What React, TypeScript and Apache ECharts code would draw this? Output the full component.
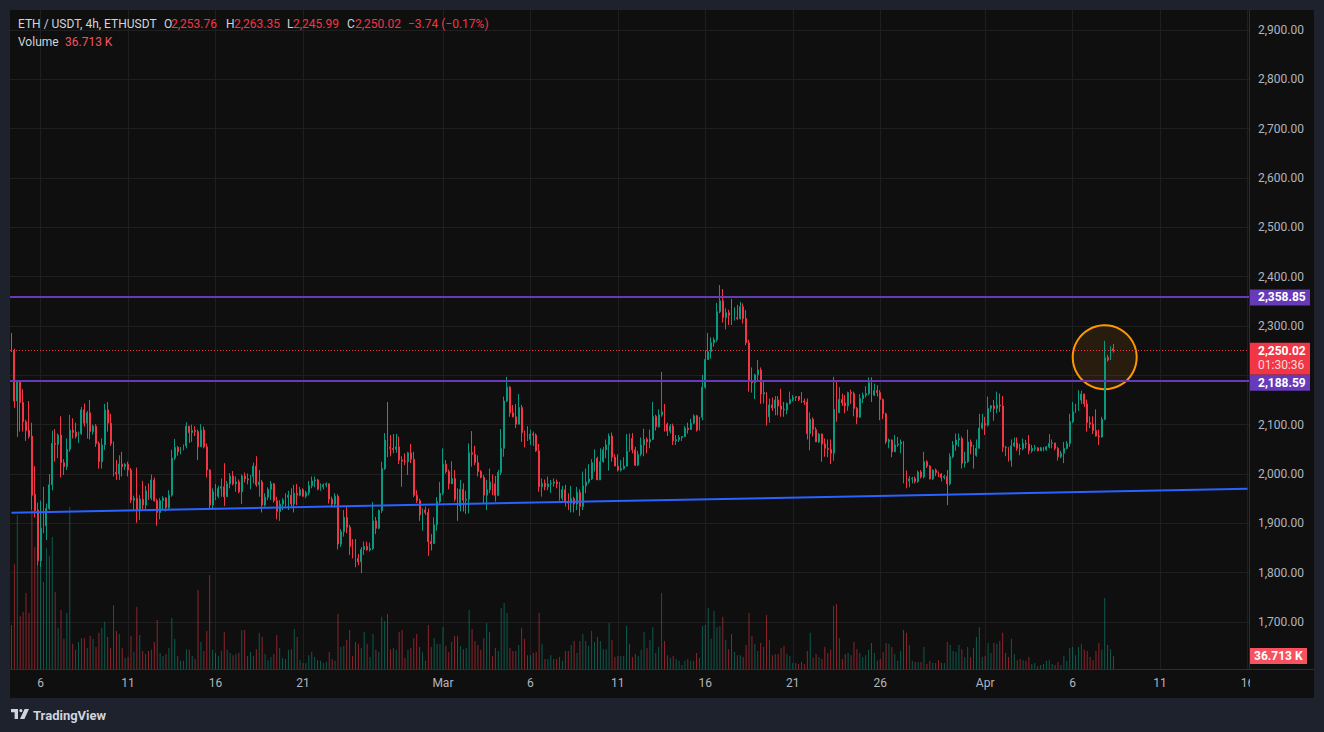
import React, { useEffect, useRef } from 'react';
import * as echarts from 'echarts';

// ---- data (ETH/USDT 4h) ----
// each row: [open, high, low, close]
const ohlc: number[][] = [
  // 0
  [2283,2286,2247,2251],[2251,2254,2134,2148],[2148,2190,2075,2187],[2187,2190,2086,2145],[2145,2172,2086,2106],
  [2106,2110,2067,2088],[2089,2148,2072,2076],[2077,2104,1927,1957],[1959,2016,1912,1926],[1927,1942,1815,1824],
  // 10
  [1824,1946,1812,1890],[1888,1974,1880,1893],[1895,1940,1866,1930],[1930,2000,1927,1978],[1978,2088,1967,2062],
  [2062,2091,2025,2060],[2060,2082,2032,2079],[2079,2117,1993,2023],[2023,2030,1998,2015],[2015,2072,2008,2050],
  // 20
  [2050,2120,2045,2089],[2089,2113,2072,2084],[2085,2104,2072,2076],[2076,2086,2063,2082],[2082,2136,2079,2130],
  [2130,2143,2096,2103],[2103,2128,2072,2124],[2124,2150,2070,2086],[2086,2100,2080,2097],[2097,2101,2055,2062],
  // 30
  [2062,2066,2011,2025],[2025,2072,2011,2059],[2059,2142,2049,2130],[2130,2146,2086,2103],[2103,2122,2057,2062],
  [2062,2066,1995,2003],[2003,2028,1988,2000],[2000,2038,1988,2020],[2020,2045,1995,2015],[2015,2022,2008,2020],
  // 40
  [2020,2025,1995,2008],[2008,2012,1941,1947],[1947,1956,1927,1951],[1951,2013,1901,1926],[1926,1957,1907,1949],
  [1949,1986,1927,1937],[1937,1976,1927,1966],[1966,1981,1947,1951],[1951,1999,1947,1988],[1988,1993,1944,1946],
  // 50
  [1946,1950,1895,1922],[1922,1951,1908,1946],[1946,1955,1927,1951],[1951,1953,1924,1932],[1932,1967,1927,1957],
  [1957,2049,1954,2032],[2032,2071,2028,2054],[2054,2057,2037,2045],[2045,2055,2040,2052],[2052,2060,2048,2057],
  // 60
  [2057,2105,2052,2097],[2097,2097,2063,2084],[2084,2100,2065,2088],[2088,2097,2077,2086],[2086,2090,2028,2055],
  [2055,2101,2055,2089],[2089,2096,2052,2055],[2055,2062,1993,2008],[2008,2010,1927,1937],[1937,1971,1930,1964],
  // 70
  [1964,1980,1947,1955],[1955,1976,1951,1971],[1971,1991,1954,1974],[1974,2022,1935,1954],[1954,1986,1954,1980],
  [1980,2002,1971,1996],[1996,2006,1977,1980],[1980,1995,1964,1984],[1984,1989,1961,1964],[1964,1999,1939,1996],
  // 80
  [1996,2003,1983,1990],[1990,2001,1979,1988],[1988,1998,1969,1995],[1995,2023,1981,2016],[2016,2036,1974,1978],
  [1978,2008,1954,1984],[1984,1988,1922,1937],[1937,1961,1934,1953],[1953,1973,1947,1969],[1969,1986,1947,1980],
  // 90
  [1980,1982,1942,1946],[1946,1954,1908,1924],[1924,1947,1905,1939],[1939,1951,1927,1947],[1947,1961,1934,1953],
  [1953,1966,1927,1957],[1957,1971,1934,1939],[1939,1978,1922,1961],[1961,1980,1937,1957],[1957,1974,1955,1968],
  // 100
  [1968,1971,1954,1955],[1955,1966,1951,1962],[1962,1986,1957,1976],[1976,1995,1971,1986],[1986,1995,1973,1988],
  [1988,1990,1967,1969],[1969,1981,1966,1974],[1974,1981,1969,1978],[1978,1983,1973,1980],[1980,1981,1940,1949],
  // 110
  [1949,1954,1932,1939],[1939,1961,1932,1955],[1955,1959,1847,1858],[1858,1888,1852,1883],[1883,1927,1873,1912],
  [1912,1933,1880,1892],[1892,1897,1836,1853],[1853,1868,1829,1846],[1846,1868,1811,1829],[1829,1838,1815,1822],
  // 120
  [1822,1852,1799,1847],[1847,1863,1836,1853],[1853,1863,1845,1846],[1846,1861,1843,1849],[1849,1943,1846,1905],
  [1905,1913,1878,1890],[1890,1928,1888,1926],[1926,2025,1921,2011],[2011,2083,2008,2069],[2069,2146,2034,2054],
  // 130
  [2054,2079,2036,2052],[2052,2081,2042,2050],[2050,2081,2043,2055],[2055,2076,2020,2028],[2028,2036,1974,2026],
  [2026,2042,2018,2025],[2025,2045,1998,2043],[2043,2061,2022,2030],[2030,2045,1953,1957],[1957,1967,1941,1946],
  // 140
  [1946,1950,1905,1917],[1917,1930,1885,1927],[1927,1934,1917,1922],[1922,1930,1834,1863],[1863,1878,1845,1859],
  [1859,1912,1859,1897],[1897,1953,1885,1944],[1944,1984,1940,1961],[1961,2052,1957,2020],[2020,2028,2001,2005],
  // 150
  [2005,2009,1969,1980],[1980,2026,1980,1991],[1991,2008,1944,1949],[1949,1971,1905,1935],[1935,1988,1924,1969],
  [1969,1981,1924,1947],[1947,1966,1919,1949],[1949,2062,1920,2043],[2043,2087,2015,2040],[2040,2057,2018,2023],
  // 160
  [2023,2038,1995,2005],[2005,2008,1991,1993],[1993,1998,1939,1957],[1957,1988,1927,1968],[1968,2011,1961,1984],
  [1984,1999,1957,1980],[1980,1996,1944,1957],[1957,2008,1955,2003],[2003,2091,1998,2052],[2052,2157,2035,2148],
  // 170
  [2148,2197,2146,2176],[2176,2178,2116,2124],[2124,2140,2115,2116],[2116,2142,2093,2101],[2101,2162,2101,2135],
  [2135,2140,2065,2084],[2084,2088,2054,2072],[2072,2097,2067,2070],[2070,2090,2059,2081],[2081,2086,2057,2079],
  // 180
  [2079,2082,2045,2047],[2047,2061,1964,1974],[1974,1991,1954,1981],[1981,1989,1967,1974],[1974,1995,1967,1980],
  [1980,1988,1962,1981],[1981,1991,1974,1984],[1984,1989,1971,1980],[1980,1984,1946,1951],[1951,1976,1946,1968],
  // 190
  [1968,1978,1934,1944],[1944,1961,1927,1941],[1941,1976,1922,1950],[1950,1954,1922,1939],[1939,1974,1927,1963],
  [1963,1969,1915,1934],[1934,2005,1927,1976],[1976,2011,1961,1984],[1984,2020,1980,1990],[1990,2030,1988,2023],
  // 200
  [2023,2050,2005,2032],[2032,2035,1988,1988],[1988,2052,1988,2025],[2025,2055,2023,2049],[2049,2070,2032,2059],
  [2059,2082,2007,2077],[2077,2084,2025,2034],[2034,2040,2016,2016],[2016,2040,2005,2008],[2008,2028,2005,2011],
  // 210
  [2011,2034,2009,2016],[2016,2081,2015,2046],[2046,2082,2045,2072],[2072,2083,2042,2049],[2049,2055,2016,2018],
  [2018,2047,2016,2040],[2040,2074,2036,2059],[2059,2092,2036,2070],[2070,2074,2042,2065],[2065,2090,2052,2070],
  // 220
  [2070,2146,2069,2117],[2117,2120,2088,2096],[2096,2131,2094,2120],[2120,2207,2116,2126],[2126,2142,2086,2101],
  [2101,2104,2077,2087],[2087,2101,2082,2097],[2097,2102,2059,2067],[2067,2079,2059,2070],[2070,2079,2065,2074],
  // 230
  [2074,2077,2067,2076],[2076,2097,2075,2093],[2093,2104,2082,2090],[2090,2112,2090,2103],[2103,2121,2101,2118],
  [2118,2120,2086,2089],[2089,2116,2088,2115],[2115,2201,2109,2176],[2176,2251,2173,2232],[2232,2286,2231,2248],
  // 240
  [2248,2277,2234,2266],[2266,2277,2258,2272],[2272,2347,2268,2329],[2329,2383,2326,2351],[2351,2375,2307,2317],
  [2317,2336,2293,2327],[2327,2333,2302,2322],[2322,2355,2302,2313],[2313,2338,2311,2317],[2317,2343,2312,2315],
  // 250
  [2315,2349,2313,2339],[2339,2346,2305,2315],[2315,2332,2261,2266],[2266,2272,2167,2187],[2187,2216,2165,2185],
  [2185,2203,2152,2201],[2201,2231,2187,2211],[2211,2216,2142,2162],[2162,2190,2143,2165],[2165,2166,2098,2116],
  // 260
  [2116,2153,2104,2140],[2140,2155,2128,2134],[2134,2158,2119,2150],[2150,2158,2119,2138],[2138,2173,2116,2131],
  [2131,2146,2116,2130],[2130,2145,2121,2143],[2143,2167,2141,2151],[2151,2160,2147,2155],[2155,2158,2148,2157],
  // 270
  [2157,2158,2148,2151],[2151,2166,2144,2148],[2148,2153,2140,2146],[2146,2153,2070,2082],[2082,2125,2048,2111],
  [2111,2115,2076,2090],[2090,2095,2065,2065],[2065,2083,2063,2081],[2081,2082,2025,2061],[2061,2072,2035,2052],
  // 280
  [2052,2070,2034,2050],[2050,2070,2020,2042],[2042,2197,2027,2131],[2131,2190,2106,2124],[2124,2176,2124,2151],
  [2151,2163,2138,2144],[2144,2160,2123,2138],[2138,2167,2128,2165],[2165,2171,2142,2163],[2163,2167,2117,2133],
  // 290
  [2133,2136,2101,2115],[2115,2162,2115,2153],[2153,2165,2144,2160],[2160,2178,2155,2163],[2163,2196,2160,2185],
  [2185,2196,2146,2160],[2160,2183,2158,2169],[2169,2180,2157,2165],[2165,2170,2109,2151],[2151,2153,2111,2122],
  // 300
  [2122,2124,2061,2065],[2065,2072,2052,2069],[2069,2070,2034,2045],[2045,2079,2045,2059],[2059,2075,2055,2061],
  [2061,2070,2042,2065],[2065,2067,1981,1988],[1988,2007,1971,1986],[1986,1996,1973,1990],[1990,1994,1981,1991],
  // 310
  [1991,1995,1981,1985],[1985,2007,1982,2004],[2004,2008,1991,1994],[1994,2045,1991,2025],[2025,2028,2012,2016],
  [2016,2018,1989,1990],[1990,2009,1988,2008],[2008,2011,1996,2003],[2003,2005,1994,2000],[2000,2002,1985,1993],
  // 320
  [1993,1998,1989,1995],[1995,2008,1937,1980],[1980,2042,1977,2035],[2035,2067,2032,2059],[2059,2082,2047,2069],
  [2069,2082,2055,2072],[2072,2076,2011,2022],[2022,2045,2013,2025],[2025,2090,2023,2065],[2065,2070,2040,2055],
  // 330
  [2055,2059,2011,2038],[2038,2070,2035,2052],[2052,2122,2052,2093],[2093,2122,2090,2103],[2103,2116,2079,2099],
  [2099,2157,2096,2133],[2133,2140,2126,2138],[2138,2150,2108,2133],[2133,2167,2123,2140],[2140,2163,2126,2138],
  // 340
  [2138,2158,2045,2054],[2054,2057,2036,2053],[2053,2055,2025,2028],[2028,2070,2015,2057],[2057,2074,2055,2063],
  [2063,2074,2047,2052],[2052,2061,2038,2051],[2051,2072,2048,2062],[2062,2069,2052,2061],[2061,2079,2040,2047],
  // 350
  [2047,2059,2043,2052],[2052,2059,2047,2053],[2053,2054,2046,2047],[2047,2055,2047,2053],[2053,2055,2046,2049],
  [2049,2057,2047,2055],[2055,2081,2052,2062],[2062,2070,2052,2063],[2063,2063,2048,2052],[2052,2055,2027,2035],
  // 360
  [2035,2047,2032,2042],[2042,2065,2022,2052],[2052,2067,2050,2062],[2062,2122,2055,2106],[2106,2146,2103,2126],
  [2126,2142,2124,2135],[2135,2170,2128,2150],[2150,2169,2142,2162],[2162,2163,2136,2142],[2142,2151,2086,2104],
  // 370
  [2104,2117,2093,2101],[2101,2117,2081,2088],[2088,2131,2076,2077],[2077,2090,2059,2075],[2075,2116,2074,2111],
  [2111,2270,2109,2236],[2236,2241,2228,2231],[2231,2259,2231,2253.76],[2253.76,2263.35,2245.99,2250.02],
];

// volume in thousands of ETH
const volumesK: number[] = [
  124,296,434,149,161,214,158,448,344,310,
  451,245,341,319,372,217,116,166,85,158,
  457,71,54,76,87,87,59,93,85,62,
  102,116,133,90,59,180,107,99,59,31,
  34,93,48,175,96,51,42,51,54,76,
  138,45,37,42,59,144,85,37,23,23,
  56,54,37,28,223,76,51,107,265,54,
  45,37,51,104,54,45,39,42,45,110,
  110,37,48,37,56,102,90,42,25,34,
  42,96,59,31,28,54,56,113,90,25,
  17,17,39,48,34,25,23,17,20,48,
  28,23,155,62,65,82,110,37,76,71,
  59,104,71,34,99,54,48,147,135,155,
  56,59,54,104,110,31,54,59,87,99,
  62,48,23,124,62,87,71,71,118,65,
  48,76,93,93,65,56,59,166,113,79,
  68,54,87,130,104,37,59,51,172,186,
  158,59,51,51,68,116,85,39,39,45,
  48,158,71,28,28,39,28,28,34,23,
  51,51,68,79,45,79,99,79,65,107,
  76,90,79,56,56,130,82,34,37,37,
  37,121,71,34,42,37,54,104,59,82,
  118,45,62,214,79,39,31,37,28,23,
  11,23,28,23,23,45,31,121,124,172,
  85,164,118,121,147,82,56,99,48,39,
  39,34,68,158,93,71,51,73,62,152,
  82,39,42,42,59,65,42,37,17,17,
  14,20,14,51,102,31,42,34,28,62,
  45,54,178,183,87,28,42,45,39,76,
  56,45,34,39,54,73,45,23,28,48,
  73,71,62,42,23,51,110,102,68,23,
  20,20,20,62,14,23,17,17,25,17,
  17,76,68,51,48,68,56,34,62,34,
  59,90,118,34,37,73,45,73,71,79,
  102,45,34,85,42,25,28,25,23,34,
  14,17,8,11,14,23,25,14,11,20,
  11,37,23,59,62,39,62,71,54,51,
  34,25,51,73,54,200,68,56,36.713,
];

const slotCount = 425; // 4h slots shown on the time axis (incl. empty future space)
const tickIndex = [10, 40, 70, 100, 148, 178, 208, 238, 268, 298, 334, 364, 394, 424];
const tickLabels = ['6', '11', '16', '21', 'Mar', '6', '11', '16', '21', '26', 'Apr', '6', '11', '16'];
const priceMin = 1700;
const priceMax = 2900;
const priceStep = 100;
const volumeAxisMax = 1858;
const resistance = 2358.85;
const support = 2188.59;
const trendLine: number[][] = [[0, 1921.6], [424, 1970.0]];
const highlight: number[] = [375, 2236.6];
const countdown = '01:30:36';
const symbolTitle = 'ETH / USDT, 4h, ETHUSDT';

const UP = '#089981';
const DOWN = '#f23645';
const FONT = 'Roboto, "Noto Sans", "DejaVu Sans", sans-serif';
const TEXT = '#d1d4dc';
const SCALE = '#b2b5be';
const GRIDLINE = '#1f1f1f';
const PURPLE = '#673ab7';

const fmt = (v: number) =>
  v.toLocaleString('en-US', { minimumFractionDigits: 2, maximumFractionDigits: 2 });

export default function App() {
  const ref = useRef<HTMLDivElement>(null);

  useEffect(() => {
    if (!ref.current) return;
    echarts.graphic.registerShape(
      'tvlogo',
      echarts.graphic.extendPath(
        'M0 0H7V10H3.6V3.2H0Z M8.3 1.6A1.6 1.6 0 1 0 11.5 1.6A1.6 1.6 0 1 0 8.3 1.6Z M13.6 0H18L13.4 10H9Z',
        {}
      ) as any
    );
    const chart = echarts.init(ref.current, undefined, { renderer: 'svg' });

    const categories = Array.from({ length: slotCount }, (_, i) => String(i));
    const tickSet = new Set(tickIndex);
    const candleData = ohlc.map(([o, h, l, c]) => [o, c, l, h]);
    const volData = volumesK.map((v, i) => ({
      value: v,
      itemStyle: {
        color: ohlc[i][3] >= ohlc[i][0] ? 'rgba(8,153,129,0.55)' : 'rgba(242,54,69,0.55)',
      },
    }));
    const last = ohlc[ohlc.length - 1];
    const prevClose = ohlc[ohlc.length - 2][3];
    const lastPrice = last[3];
    const tagPrices = [resistance, support, lastPrice];

    const option: any = {
      animation: false,
      backgroundColor: 'transparent',
      textStyle: { fontFamily: FONT },
      grid: [
        { left: 10, right: 75, top: 30, bottom: 110 },
        { left: 10, right: 75, top: 10, bottom: 63 },
      ],
      xAxis: [
        { type: 'category', gridIndex: 0, data: categories, show: false, boundaryGap: true },
        {
          type: 'category',
          gridIndex: 1,
          data: categories,
          boundaryGap: true,
          axisLine: { show: false },
          axisTick: { show: false },
          axisLabel: {
            interval: (idx: number) => tickSet.has(idx),
            formatter: (_v: string, idx: number) => tickLabels[tickIndex.indexOf(idx)] ?? '',
            color: SCALE,
            fontSize: 12,
            fontFamily: FONT,
            margin: 8,
          },
          splitLine: {
            show: true,
            interval: (idx: number) => tickSet.has(idx),
            alignWithLabel: true,
            lineStyle: { color: GRIDLINE, width: 1 },
          },
        },
      ],
      yAxis: [
        {
          type: 'value',
          gridIndex: 0,
          position: 'right',
          min: priceMin,
          max: priceMax,
          interval: priceStep,
          axisLine: { show: false },
          axisTick: { show: false },
          axisLabel: {
            color: SCALE,
            fontSize: 12,
            fontFamily: FONT,
            margin: 9,
            // price labels hidden where a price tag sits on the scale
            formatter: (v: number) => (tagPrices.some((p) => Math.abs(p - v) < 30) ? '' : fmt(v)),
          },
          splitLine: { show: true, lineStyle: { color: GRIDLINE, width: 1 } },
        },
        { type: 'value', gridIndex: 1, min: 0, max: volumeAxisMax, show: false },
      ],
      series: [
        {
          type: 'bar',
          name: 'Volume',
          xAxisIndex: 1,
          yAxisIndex: 1,
          data: volData,
          barWidth: 1,
          z: 1,
          silent: true,
        },
        {
          type: 'scatter',
          xAxisIndex: 0,
          yAxisIndex: 0,
          data: [highlight],
          symbol: 'circle',
          symbolSize: 64,
          z: 1,
          silent: true,
          itemStyle: { color: 'rgba(255,152,0,0.1)', borderColor: '#ff9800', borderWidth: 2, opacity: 1 },
        },
        {
          type: 'candlestick',
          name: 'ETHUSDT',
          xAxisIndex: 0,
          yAxisIndex: 0,
          data: candleData,
          barWidth: 1.4,
          z: 2,
          itemStyle: {
            color: UP,
            color0: DOWN,
            borderColor: UP,
            borderColor0: DOWN,
            borderWidth: 1,
          },
          markLine: {
            silent: true,
            symbol: ['none', 'none'],
            label: { show: false },
            animation: false,
            data: [
              { yAxis: resistance, lineStyle: { color: PURPLE, width: 2, type: 'solid' } },
              { yAxis: support, lineStyle: { color: PURPLE, width: 2, type: 'solid' } },
              { yAxis: lastPrice, lineStyle: { color: DOWN, width: 1, type: [1, 2] } },
              [
                { coord: trendLine[0], lineStyle: { color: '#2962ff', width: 2, type: 'solid' } },
                { coord: trendLine[1] },
              ],
            ],
          },
        },
      ],
    };
    chart.setOption(option);

    const yRes = chart.convertToPixel({ yAxisIndex: 0 } as any, resistance) as unknown as number;
    const ySup = chart.convertToPixel({ yAxisIndex: 0 } as any, support) as unknown as number;
    const yLast = chart.convertToPixel({ yAxisIndex: 0 } as any, lastPrice) as unknown as number;
    const yVol = chart.convertToPixel({ yAxisIndex: 1 } as any, volumesK[volumesK.length - 1]) as unknown as number;

    const tagX = 1250;
    const tagW = 60;
    const redTop = yLast - 8;
    const redBottom = redTop + 32;
    const supTop = Math.max(ySup - 8, redBottom);

    const txt = (x: number, y: number, text: string, fill: string, extra: any = {}) => ({
      type: 'text',
      x,
      y,
      z: 101,
      silent: true,
      style: {
        text,
        fill,
        fontSize: 12,
        fontFamily: FONT,
        verticalAlign: 'middle',
        align: 'left',
        ...extra,
      },
    });
    const rect = (x: number, y: number, w: number, h: number, fill: string, z = 100) => ({
      type: 'rect',
      z,
      silent: true,
      shape: { x, y, width: w, height: h },
      style: { fill },
    });

    const change = lastPrice - prevClose;
    const pct = (change / prevClose) * 100;
    const sign = (v: number) => (v < 0 ? '\u2212' : '+') + Math.abs(v).toFixed(2);
    const lastVol = volumesK[volumesK.length - 1];

    chart.setOption({
      graphic: [
        // frame lines
        { type: 'line', z: 60, silent: true, shape: { x1: 1249.5, y1: 10, x2: 1249.5, y2: 669 }, style: { stroke: '#2a2e39', lineWidth: 1 } },
        rect(1250, 670, 64, 27, '#0f0f0f', 55),
        { type: 'line', z: 60, silent: true, shape: { x1: 10, y1: 669.5, x2: 1314, y2: 669.5 }, style: { stroke: '#2a2e39', lineWidth: 1 } },
        // price tags
        rect(tagX, yRes - 7.5, tagW, 16, PURPLE),
        txt(1258, yRes + 0.5, fmt(resistance), '#ffffff', { fontWeight: 'bold' }),
        rect(tagX, redTop, tagW, 32, DOWN),
        txt(1258, yLast + 0.5, fmt(lastPrice), '#ffffff', { fontWeight: 'bold' }),
        txt(1258, yLast + 14, countdown, 'rgba(255,255,255,0.82)'),
        rect(tagX, supTop, tagW, 16, PURPLE),
        txt(1258, supTop + 8.5, fmt(support), '#ffffff', { fontWeight: 'bold' }),
        rect(tagX, yVol - 8, 57, 16, '#f7525f'),
        txt(1254, yVol, lastVol.toFixed(3) + ' K', '#ffffff', { fontWeight: 'bold' }),
        // legend
        txt(18, 24, symbolTitle, TEXT),
        txt(164, 24, 'O', TEXT),
        txt(171, 24, fmt(last[0]), DOWN),
        txt(226, 24, 'H', TEXT),
        txt(234, 24, fmt(last[1]), DOWN),
        txt(287, 24, 'L', TEXT),
        txt(293, 24, fmt(last[2]), DOWN),
        txt(347, 24, 'C', TEXT),
        txt(355, 24, fmt(last[3]), DOWN),
        txt(408, 24, `${sign(change)} (${sign(pct)}%)`, DOWN),
        txt(18, 42, 'Volume', TEXT),
        txt(65, 42, lastVol.toFixed(3) + ' K', '#f7525f'),
        // TradingView logo
        { type: 'tvlogo', x: 11, y: 709, z: 101, silent: true, style: { fill: TEXT } },
        txt(33, 715, 'TradingView', TEXT, { fontSize: 13, fontWeight: 'bold' }),
      ],
    });

    return () => {
      chart.dispose();
    };
  }, []);

  return (
    <div style={{ position: 'fixed', left: 0, top: 0, width: 1324, height: 732, background: '#1e222d', overflow: 'hidden' }}>
      <div style={{ position: 'absolute', left: 10, top: 10, width: 1304, height: 688, background: '#0f0f0f' }} />
      <div ref={ref} style={{ position: 'absolute', left: 0, top: 0, width: 1324, height: 732 }} />
    </div>
  );
}
